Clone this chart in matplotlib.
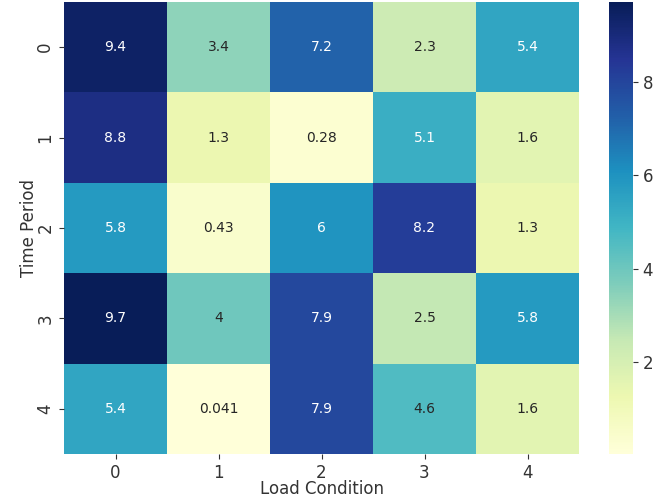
import matplotlib
matplotlib.use("Agg")
import matplotlib.pyplot as plt
import seaborn as sns
import numpy as np

# load values per time period (rows) and load condition (columns)
row0 = [9.4, 3.4, 7.2, 2.3, 5.4]
row1 = [8.8, 1.3, 0.28, 5.1, 1.6]
row2 = [5.8, 0.43, 6.0, 8.2, 1.3]
row3 = [9.7, 4.0, 7.9, 2.5, 5.8]
row4 = [5.4, 0.041, 7.9, 4.6, 1.6]
time_periods = [0, 1, 2, 3, 4]
load_conditions = [0, 1, 2, 3, 4]

data = np.array([row0, row1, row2, row3, row4])

txt = "#333333"

fig = plt.figure(figsize=(6.65, 5.01), dpi=100)
ax = fig.add_axes([64/665, 1-454/501, 515/665, 452/501])
cax = fig.add_axes([609/665, 1-454/501, 24/665, 452/501])

sns.heatmap(data, annot=True, cmap="YlGnBu", ax=ax, cbar_ax=cax,
            xticklabels=load_conditions, yticklabels=time_periods,
            annot_kws={"size": 10})

ax.set_xlabel("Load Condition", fontsize=12, color=txt, labelpad=-1)
ax.set_ylabel("Time Period", fontsize=12, color=txt, labelpad=-1)
ax.tick_params(labelsize=12, labelcolor=txt, color=txt)
cax.tick_params(labelsize=12, labelcolor=txt, color=txt)

plt.savefig("out.png", dpi=100)
